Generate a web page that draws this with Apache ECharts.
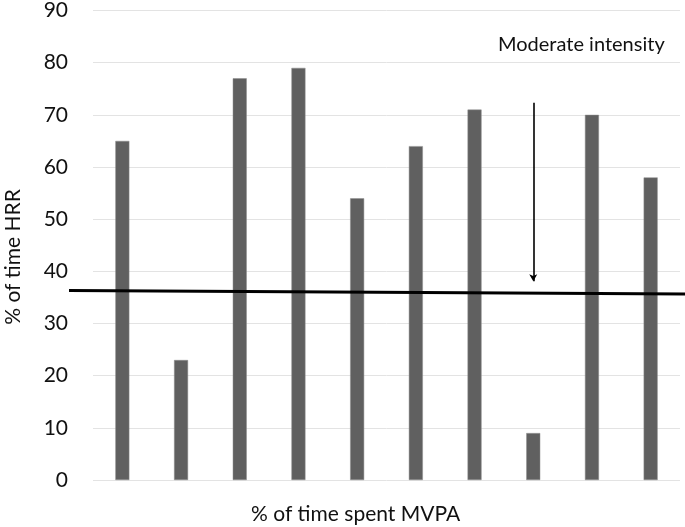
<!DOCTYPE html>
<html><head><meta charset="utf-8">
<script src="https://cdn.jsdelivr.net/npm/echarts@6/dist/echarts.min.js"></script>
<style>html,body{margin:0;padding:0;background:#fff}#c{width:685px;height:527px}</style>
</head><body><div id="c"></div>
<script>
const categories = ['1','2','3','4','5','6','7','8','9','10'];
const hrrValues = [65, 23, 77, 79, 54, 64, 71, 9, 70, 58];
const yTicks = {min: 0, max: 90, interval: 10};
const thresholdLine = [[0, 36.3], [1, 35.6]];
const arrowCategory = '8';
const arrowFromTo = [72.3, 38.1];
const annotation = 'Moderate intensity';
const xTitle = '% of time spent MVPA';
const yTitle = '% of time HRR';

const font = 'Lato, "Open Sans", sans-serif';
const chart = echarts.init(document.getElementById('c'));
chart.setOption({
  animation: false,
  title: [
    {text: annotation, left: 493, top: 30, textStyle: {fontFamily: font, fontSize: 20, fontWeight: 'normal', color: '#111'}},
    {text: xTitle, left: 246, top: 499, textStyle: {fontFamily: font, fontSize: 21, fontWeight: 'normal', color: '#111'}}
  ],
  graphic: [
    {type: 'text', x: 3, y: 257, rotation: Math.PI / 2, style: {text: yTitle, fontFamily: font, fontSize: 21, fill: '#111', align: 'center', verticalAlign: 'top'}}
  ],
  grid: [
    {left: 93, right: 5, top: 10, bottom: 47},
    {left: 69, right: 0, top: 10, bottom: 47}
  ],
  xAxis: [
    {type: 'category', data: categories, gridIndex: 0, axisLine: {show: false}, axisTick: {show: false}, axisLabel: {show: false}},
    {type: 'value', gridIndex: 1, min: 0, max: 1, show: false}
  ],
  yAxis: [
    {type: 'value', gridIndex: 0, min: yTicks.min, max: yTicks.max, interval: yTicks.interval,
     axisLine: {show: false}, axisTick: {show: false},
     axisLabel: {fontFamily: font, fontSize: 21, color: '#111', margin: 25},
     splitLine: {lineStyle: {color: '#e3e3e3', width: 1}}},
    {type: 'value', gridIndex: 1, min: yTicks.min, max: yTicks.max, show: false}
  ],
  series: [
    {type: 'bar', data: hrrValues, xAxisIndex: 0, yAxisIndex: 0, barWidth: 14,
     itemStyle: {color: '#606060', borderColor: '#8c8c8c', borderWidth: 0.5},
     markLine: {silent: true, symbol: ['none', 'arrow'], symbolSize: [6, 7], label: {show: false},
       lineStyle: {color: '#000', width: 1.6, type: 'solid'},
       data: [[{coord: [arrowCategory, arrowFromTo[0]]}, {coord: [arrowCategory, arrowFromTo[1]]}]]}},
    {type: 'line', data: thresholdLine, xAxisIndex: 1, yAxisIndex: 1, symbol: 'none',
     lineStyle: {color: '#000', width: 3}, z: 5}
  ]
});
</script></body></html>
